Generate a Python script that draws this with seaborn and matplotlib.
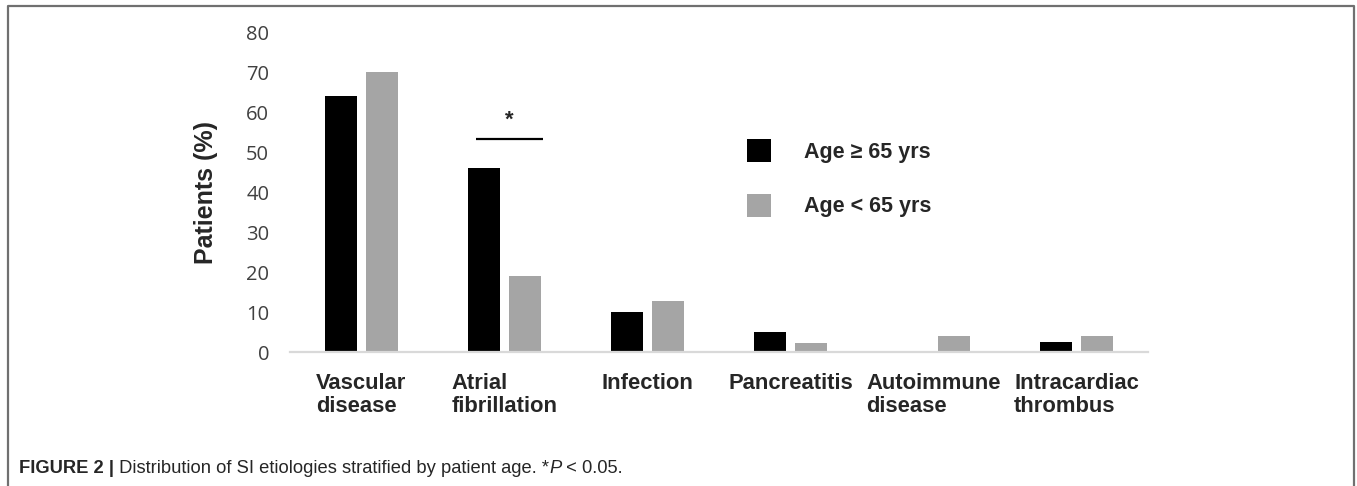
import matplotlib
matplotlib.use("Agg")
import matplotlib.pyplot as plt
from matplotlib import font_manager
from matplotlib.lines import Line2D
import seaborn as sns
import pandas as pd

# ---- data ----
categories = ["Vascular\ndisease", "Atrial\nfibrillation", "Infection",
              "Pancreatitis", "Autoimmune\ndisease", "Intracardiac\nthrombus"]
groups = ["Age \u2265 65 yrs", "Age < 65 yrs"]
old_vals = [64, 46, 10, 5, 0, 2.5]
young_vals = [70, 19, 12.7, 2.2, 4.1, 4.1]
y_ticks = [0, 10, 20, 30, 40, 50, 60, 70, 80]
sig_category = 1
sig_height = 53.3
caption_bold = "FIGURE 2 |"
caption_text = " Distribution of SI etiologies stratified by patient age. *"
caption_italic = "P"
caption_tail = " < 0.05."

colors = ["#000000", "#a5a5a5"]

df = pd.DataFrame({
    "category": categories * 2,
    "group": [groups[0]] * len(categories) + [groups[1]] * len(categories),
    "value": old_vals + young_vals,
})

sns.set_style("white")
plt.rcParams["font.family"] = ["Liberation Sans", "DejaVu Sans"]

avail = {f.name for f in font_manager.fontManager.ttflist}
narrow = "Liberation Sans Narrow" if "Liberation Sans Narrow" in avail else "Liberation Sans"
cap_size = 15 if narrow == "Liberation Sans Narrow" else 13.2

W, H = 1357, 486
fig = plt.figure(figsize=(W / 100, H / 100), dpi=100)
ax = fig.add_axes([290 / W, 1 - 352 / H, (1148 - 290) / W, (352 - 32) / H])

sns.barplot(data=df, x="category", y="value", hue="group", order=categories,
            hue_order=groups, palette=colors, width=0.574, gap=0.22,
            saturation=1, ax=ax, errorbar=None, linewidth=0)

ax.set_xlim(-0.5, len(categories) - 0.5)
ax.set_ylim(0, 80)
ax.set_yticks(y_ticks)
ax.set_yticklabels([str(v) for v in y_ticks], family=["Open Sans", "DejaVu Sans"],
                   fontsize=14.5, color="#404040")
ax.tick_params(axis="y", length=0, pad=15)
ax.tick_params(axis="x", length=0, pad=15)
for lab in ax.get_xticklabels():
    lab.set_fontsize(15.8)
    lab.set_fontweight("bold")
    lab.set_multialignment("left")
    lab.set_ha("center")
    lab.set_linespacing(1.15)
ax.set_xlabel("")
ax.set_ylabel("Patients (%)", fontsize=18, fontweight="bold", labelpad=20)

for s in ["top", "right", "left"]:
    ax.spines[s].set_visible(False)
ax.spines["bottom"].set_color("#d9d9d9")
ax.spines["bottom"].set_linewidth(1.6)
ax.grid(False)

# significance marker
ax.plot([sig_category - 0.2, sig_category + 0.27], [sig_height, sig_height],
        color="black", lw=1.6, solid_capstyle="butt")
ax.text(sig_category + 0.035, sig_height + 2.0, "*", ha="center", va="bottom",
        fontsize=16, fontweight="bold")

# legend
handles, labels = ax.get_legend_handles_labels()
if ax.get_legend() is not None:
    ax.get_legend().remove()
fs = 15.5
fig.legend(handles, labels, loc="upper left",
           bbox_to_anchor=(747 / W, 1 - 139 / H), bbox_transform=fig.transFigure,
           frameon=False, borderpad=0, borderaxespad=0,
           handlelength=24 / (fs * 100 / 72), handleheight=28 / (fs * 100 / 72),
           handletextpad=33 / (fs * 100 / 72), labelspacing=1.42,
           prop={"size": fs, "weight": "bold", "family": ["Liberation Sans", "DejaVu Sans"]})

# frame
frame_col = "#707070"
fig.add_artist(Line2D([8 / W, 8 / W, 1354 / W, 1354 / W],
                      [0, 1 - 6 / H, 1 - 6 / H, 0],
                      transform=fig.transFigure, color=frame_col, lw=1.6))

# caption
t1 = fig.text(19 / W, 1 - 477 / H, caption_bold, fontsize=cap_size,
              fontweight="bold", family=narrow, va="bottom", ha="left")
t2 = ax.annotate(caption_text, xy=(1, 0), xycoords=t1, fontsize=cap_size,
                 family=narrow, va="bottom", ha="left", annotation_clip=False)
t3 = ax.annotate(caption_italic, xy=(1, 0), xycoords=t2, fontsize=cap_size,
                 family=narrow, style="italic", va="bottom", ha="left",
                 annotation_clip=False)
t4 = ax.annotate(caption_tail, xy=(1, 0), xycoords=t3, fontsize=cap_size,
                 family=narrow, va="bottom", ha="left", annotation_clip=False)

fig.savefig("out.png", dpi=100)
